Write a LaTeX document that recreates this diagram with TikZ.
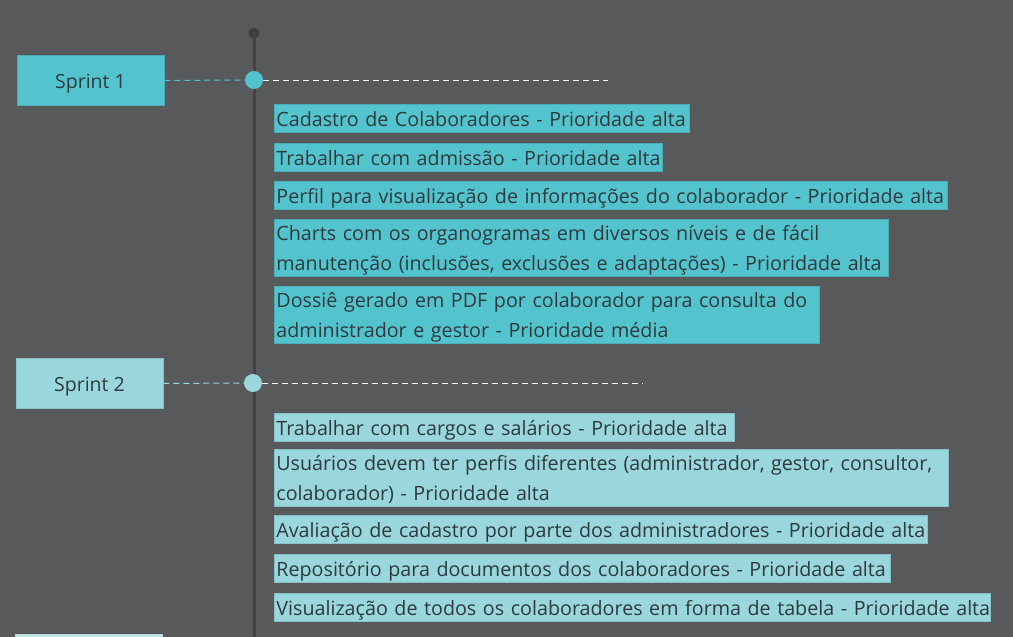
\documentclass[tikz,border=0pt]{standalone}
\usepackage{fontspec}
\setmainfont{Open Sans}
\definecolor{bg}{HTML}{58595B}
\definecolor{sone}{HTML}{53C4CD}
\definecolor{sonebd}{HTML}{4AAEB6}
\definecolor{stwo}{HTML}{99D7DD}
\definecolor{stwobd}{HTML}{86C0C6}
\definecolor{sthree}{HTML}{C4E9EC}
\definecolor{txt}{HTML}{2E3A3D}
\definecolor{axis}{HTML}{444446}
\definecolor{dotc}{HTML}{3E3E40}
\tikzset{
  every node/.style={text=txt},
  sprintbox/.style={rectangle, draw=#1bd, fill=#1, line width=0.8pt, minimum width=147pt, minimum height=50pt, inner sep=0pt, text height=15pt, text depth=0pt, font=\fontsize{19.5}{23}\selectfont},
  item/.style={rectangle, anchor=north west, inner xsep=2pt, inner ysep=0pt, align=left, line width=0.8pt, font=\fontsize{19.7}{29.5}\selectfont},
  oneline/.style={minimum height=28pt, text height=16pt, text depth=0pt},
  twoline/.style={minimum height=57pt, text height=14.7pt, text depth=29.3pt},
  itemone/.style={item, draw=sonebd, fill=sone},
  itemtwo/.style={item, draw=stwobd, fill=stwo},
  milestone/.style={circle, fill=#1, minimum size=18pt, inner sep=0pt},
  dashline/.style={dash pattern=on 6pt off 4pt, line width=1pt},
}
\begin{document}
\begin{tikzpicture}[x=1pt,y=-1pt]
\useasboundingbox[fill=bg] (0,0) rectangle (1013,637);
% timeline axis
\node[circle, fill=dotc, minimum size=11pt, inner sep=0pt] (top) at (254,33) {};
\coordinate (bottom) at (254,640);
\draw[axis, line width=3pt] (top.center) -- (bottom);
% sprint 1
\node[sprintbox=sone] (s1) at (90.5,80.5) {Sprint 1};
\node[milestone=sone] (m1) at (254,80) {};
\coordinate (e1) at (608,80);
\draw[dashline, sone] (s1.east) -- (m1.west);
\draw[dashline, white] (m1.east) -- (e1);
% sprint 2
\node[sprintbox=stwo] (s2) at (89.5,383.5) {Sprint 2};
\node[milestone=stwo] (m2) at (253,383) {};
\coordinate (e2) at (643,383);
\draw[dashline, stwo] (s2.east) -- (m2.west);
\draw[dashline, white] (m2.east) -- (e2);
% sprint 3 (partially visible)
\node[rectangle, draw=sthree!85!gray, fill=sthree, line width=0.8pt, minimum width=147pt, minimum height=50pt, inner sep=0pt, anchor=north west] (s3) at (15,634) {};
% sprint 1 items
\node[itemone, oneline, minimum width=415pt, text width=411pt] (a1) at (274,104) {\mbox{Cadastro de Colaboradores - Prioridade alta}};
\node[itemone, oneline, minimum width=388pt, text width=384pt] (a2) at (274,143) {\mbox{Trabalhar com admissão - Prioridade alta}};
\node[itemone, oneline, minimum width=673pt, text width=669pt] (a3) at (274,181) {\mbox{Perfil para visualização de informações do colaborador - Prioridade alta}};
\node[itemone, twoline, minimum width=614pt, text width=610pt] (a4) at (274,219) {\mbox{Charts com os organogramas em diversos níveis e de fácil}\\\mbox{manutenção (inclusões, exclusões e adaptações) - Prioridade alta}};
\node[itemone, twoline, minimum width=545pt, text width=541pt] (a5) at (274,286) {\mbox{Dossiê gerado em PDF por colaborador para consulta do}\\\mbox{administrador e gestor - Prioridade média}};
% sprint 2 items
\node[itemtwo, oneline, minimum width=460pt, text width=456pt] (b1) at (274,413) {\mbox{Trabalhar com cargos e salários - Prioridade alta}};
\node[itemtwo, twoline, minimum width=674pt, text width=670pt] (b2) at (274,449) {\mbox{Usuários devem ter perfis diferentes (administrador, gestor, consultor,}\\\mbox{colaborador) - Prioridade alta}};
\node[itemtwo, oneline, minimum width=653pt, text width=649pt] (b3) at (274,515) {\mbox{Avaliação de cadastro por parte dos administradores - Prioridade alta}};
\node[itemtwo, oneline, minimum width=616pt, text width=612pt] (b4) at (274,554) {\mbox{Repositório para documentos dos colaboradores - Prioridade alta}};
\node[itemtwo, oneline, minimum width=716pt, text width=712pt] (b5) at (274,593) {\mbox{Visualização de todos os colaboradores em forma de tabela - Prioridade alta}};
\end{tikzpicture}
\end{document}
